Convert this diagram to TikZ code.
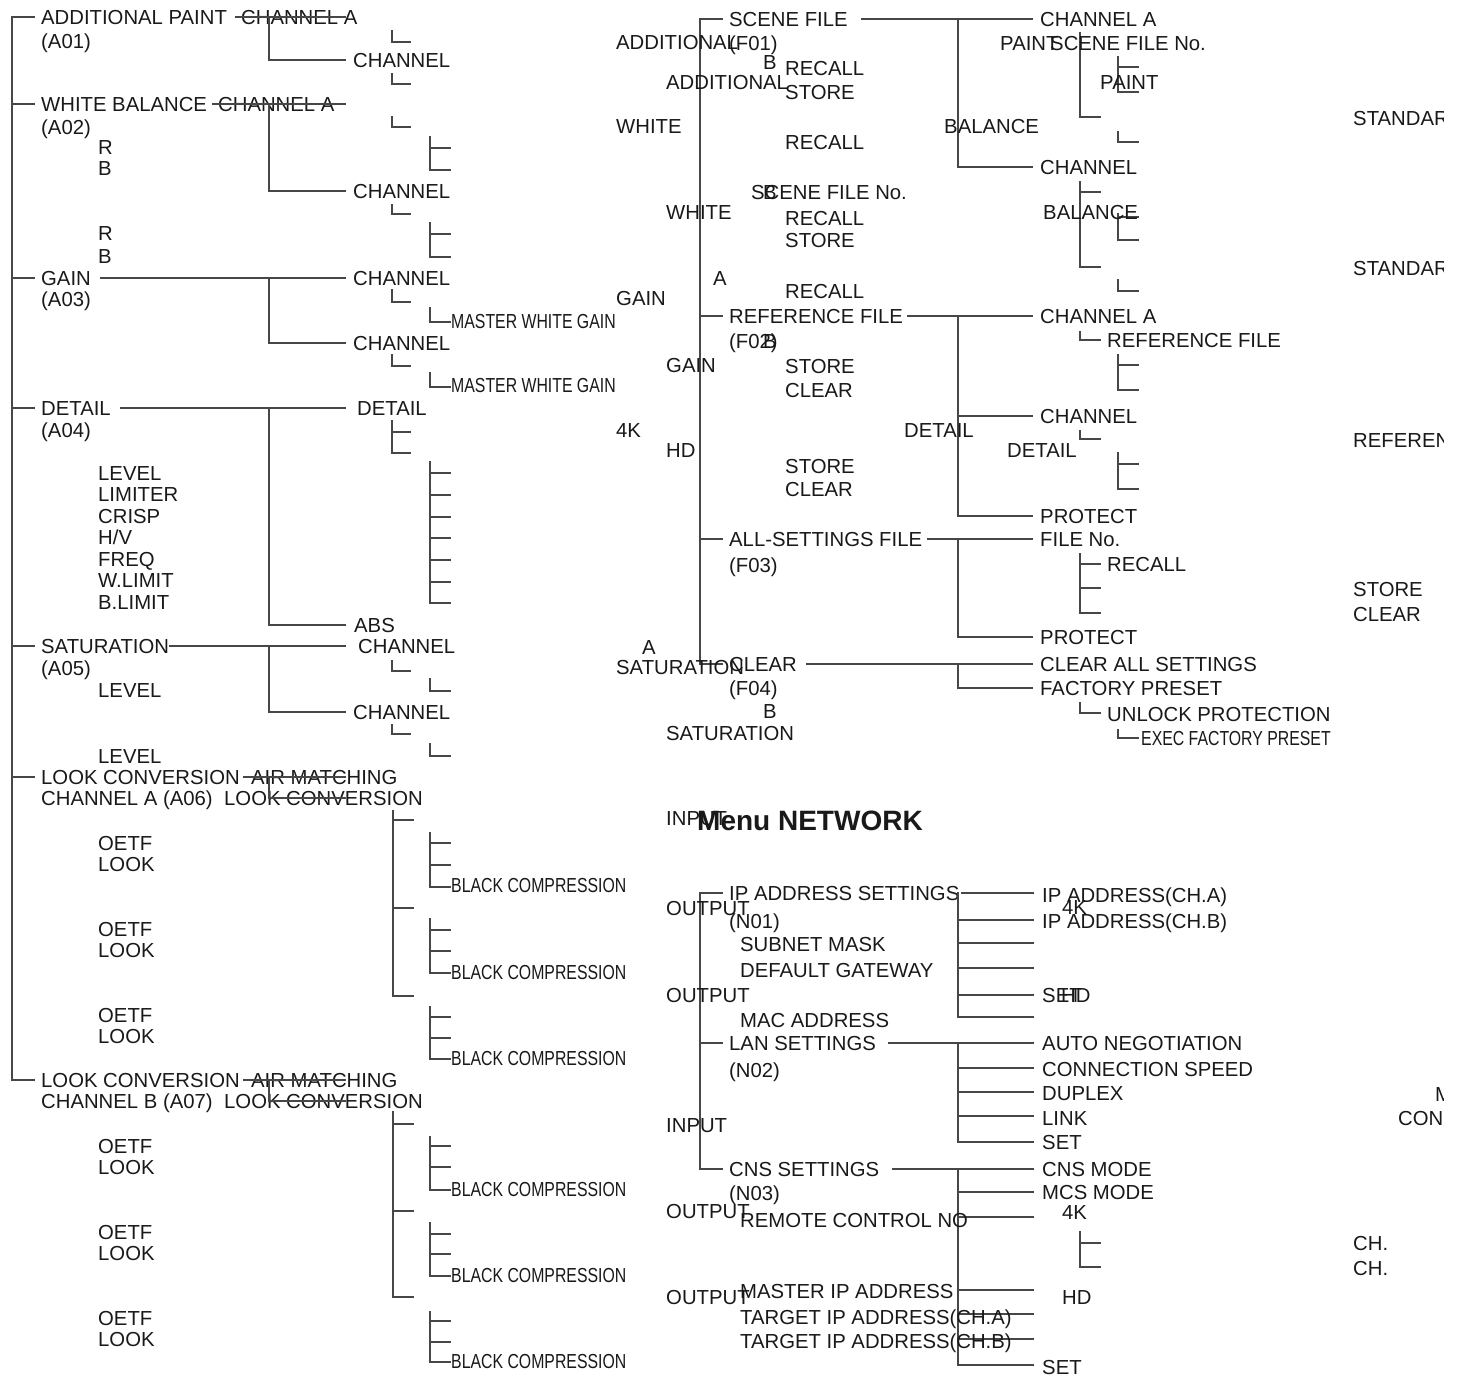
\documentclass[tikz,border=0pt]{standalone}
\usepackage{fontspec}
\setmainfont{Liberation Sans}
\newfontfamily\slimfamily[FakeStretch=0.78]{Liberation Sans}
\usetikzlibrary{positioning}

% vertical rule with short ticks to the right
\newcommand{\tickrack}[5]{%
  \coordinate (#1) at (#2,#3);
  \foreach \ty [count=\k] in {#4} {
    \coordinate (#1-\k) at (#2,\ty);
    \coordinate (#1-\k-e) at (#2+#5,\ty);
    \draw[wire] (#1-\k) -- (#1-\k-e);
    \xdef\lastty{\ty}
  }
  \coordinate (#1-end) at (#2,\lastty);
  \draw[wire] (#1) -- (#1-end);
}

\begin{document}
\begin{tikzpicture}[x=1pt, y=-1pt, font=\fontsize{20.3}{24}\selectfont,
    wire/.style={draw=black!72, line width=1.6pt, line cap=rect},
    lbl/.style={anchor=west, inner sep=0pt, text height=14.5pt, text depth=0pt, text=black!90},
    slim/.style={lbl, font=\slimfamily\fontsize{20.3}{24}\selectfont},
    headline/.style={anchor=west, inner sep=0pt, text height=20pt, text depth=0pt, text=black!90,
      font=\bfseries\fontsize{28}{32}\selectfont}]
\fill[white] (0,0) rectangle (1459,1381);
\useasboundingbox (0,0) rectangle (1459,1381);
\clip (0,0) rectangle (1443,1381);

\coordinate (aJoin) at (269,0);
\coordinate (aEnd) at (345,0);
\coordinate (fJoin) at (958,0);
\coordinate (fEnd) at (1032,0);
\coordinate (nEnd) at (1033,0);

%% ---- left column (A01 - A07)
\tickrack{aSpine}{12}{17}{17,104,278,408,646,777,1080}{22}

\node[lbl] (addPaint) at (41,17) {ADDITIONAL PAINT};
\node[lbl] (addPaintNo) at (41,41) {(A01)};
\node[lbl] (addChA) at (241,17) {CHANNEL A};
\node[lbl] (addChB) at (353,60) {CHANNEL};
\draw[wire] ([xshift=-5pt]addChA.west) -- (addChA.west -| aEnd);
\draw[wire] (addChA.west -| aJoin) |- (addChB.west -| aEnd);
\tickrack{am1}{392}{31}{42}{18}
\tickrack{am2}{392}{74}{84}{18}

\node[lbl] (wb) at (41,104) {WHITE BALANCE};
\node[lbl] (wbNo) at (41,127) {(A02)};
\node[lbl] (wbChA) at (218,104) {CHANNEL A};
\node[lbl] (wbChB) at (353,191) {CHANNEL};
\node[lbl] (wbR1) at (98,147) {R};
\node[lbl] (wbB1) at (98,168) {B};
\node[lbl] (wbR2) at (98,233) {R};
\node[lbl] (wbB2) at (98,256) {B};
\draw[wire] ([xshift=-5pt]wbChA.west) -- (wbChA.west -| aEnd);
\draw[wire] (wbChA.west -| aJoin) |- (wbChB.west -| aEnd);
\tickrack{wm1}{392}{117}{127}{18}
\tickrack{wm2}{430}{137}{148,170}{20}
\tickrack{wm3}{392}{205}{214}{18}
\tickrack{wm4}{430}{223}{234,257}{20}

\node[lbl] (gain) at (41,278) {GAIN};
\node[lbl] (gainNo) at (41,299) {(A03)};
\node[lbl] (gainChA) at (353,278) {CHANNEL};
\node[lbl] (gainChB) at (353,343) {CHANNEL};
\node[slim] (mwgA) at (451,321) {MASTER WHITE GAIN};
\node[slim] (mwgB) at (451,385) {MASTER WHITE GAIN};
\draw[wire] ([xshift=10pt]gain.east) -- (gainChA.west -| aEnd);
\draw[wire] (gain.east -| aJoin) |- (gainChB.west -| aEnd);
\tickrack{gm1}{392}{290}{302}{18}
\tickrack{gm2}{430}{308}{322}{20}
\tickrack{gm3}{392}{355}{366}{18}
\tickrack{gm4}{430}{373}{387}{20}

\node[lbl] (det) at (41,408) {DETAIL};
\node[lbl] (detNo) at (41,430) {(A04)};
\node[lbl] (detD) at (357,408) {DETAIL};
\node[lbl] (detAbs) at (354,625) {ABS};
\foreach \t [count=\i] in {LEVEL,LIMITER,CRISP,H/V,FREQ,W.LIMIT,B.LIMIT}
  \node[lbl] (detItem\i) at (98,451.5+21.5*\i) {\t};
\draw[wire] ([xshift=10pt]det.east) -- (detD.west -| aEnd);
\draw[wire] (det.east -| aJoin) |- (detAbs.west -| aEnd);
\tickrack{dm1}{392}{421}{432,453}{18}
\tickrack{dm2}{430}{462}{473,495,517,538,560,582,603}{20}

\node[lbl] (sat) at (41,646) {SATURATION};
\node[lbl] (satNo) at (41,668) {(A05)};
\node[lbl] (satChA) at (358,646) {CHANNEL};
\node[lbl] (satChB) at (353,712) {CHANNEL};
\node[lbl] (satLvA) at (98,690) {LEVEL};
\node[lbl] (satLvB) at (98,756) {LEVEL};
\draw[wire] ([xshift=1pt]sat.east) -- (satChA.west -| aEnd);
\draw[wire] (sat.east -| aJoin) |- (satChB.west -| aEnd);
\tickrack{sm1}{392}{661}{671}{18}
\tickrack{sm2}{430}{679}{691}{20}
\tickrack{sm3}{392}{725}{734}{18}
\tickrack{sm4}{430}{744}{756}{20}

\node[lbl] (lookA) at (41,777) {LOOK CONVERSION};
\node[lbl] (lookANo) at (41,798) {CHANNEL A (A06)};
\node[lbl] (airA) at (251,777) {AIR MATCHING};
\node[lbl] (convA) at (224,798) {LOOK CONVERSION};
\draw[wire] ([xshift=-7pt]airA.west) -- (airA.west -| aEnd);
\draw[wire] (airA.west -| aJoin) |- (convA.west -| aEnd);
\foreach \yy [count=\i] in {843,929,1015} {
  \node[lbl] (oetfA\i) at (98,\yy) {OETF};
  \node[lbl] (lookItemA\i) at (98,\yy+21) {LOOK};
}
\tickrack{lam}{393}{811}{820,908,996}{20}
\tickrack{la1}{430}{833}{843,865,887}{20}
\tickrack{la2}{430}{919}{930,951,973}{20}
\tickrack{la3}{430}{1007}{1017,1038,1059}{20}
\foreach \yy [count=\i] in {885,972,1058}
  \node[slim] (bcA\i) at (451,\yy) {BLACK COMPRESSION};

\node[lbl] (lookB) at (41,1080) {LOOK CONVERSION};
\node[lbl] (lookBNo) at (41,1101) {CHANNEL B (A07)};
\node[lbl] (airB) at (251,1080) {AIR MATCHING};
\node[lbl] (convB) at (224,1101) {LOOK CONVERSION};
\draw[wire] ([xshift=-7pt]airB.west) -- (airB.west -| aEnd);
\draw[wire] (airB.west -| aJoin) |- (convB.west -| aEnd);
\foreach \yy [count=\i] in {1146,1232,1318} {
  \node[lbl] (oetfB\i) at (98,\yy) {OETF};
  \node[lbl] (lookItemB\i) at (98,\yy+21) {LOOK};
}
\tickrack{lbm}{393}{1112}{1124,1211,1297}{20}
\tickrack{lb1}{430}{1137}{1146,1167,1190}{20}
\tickrack{lb2}{430}{1223}{1234,1254,1276}{20}
\tickrack{lb3}{430}{1312}{1321,1342,1362}{20}
\foreach \yy [count=\i] in {1189,1275,1361}
  \node[slim] (bcB\i) at (451,\yy) {BLACK COMPRESSION};

%% ---- middle column (F01 - F04)
\tickrack{fSpine}{700}{19}{19,316,539,664}{22}

\node[lbl] (scene) at (729,19) {SCENE FILE};
\node[lbl] (sceneNo) at (729,43) {(F01)};
\node[lbl] (sceneChA) at (1040,19) {CHANNEL A};
\node[lbl] (sceneChB) at (1040,167) {CHANNEL};
\draw[wire] ([xshift=14pt]scene.east) -- (sceneChA.west -| fEnd);
\draw[wire] (scene.east -| fJoin) |- (sceneChB.west -| fEnd);
\tickrack{sfr1}{1080}{33}{117}{20}
\tickrack{sfr2}{1118}{57}{67,92}{20}
\tickrack{sfr3}{1118}{132}{142}{20}
\tickrack{sfr4}{1080}{182}{192,267}{20}
\tickrack{sfr5}{1118}{214}{217,240}{20}
\tickrack{sfr6}{1118}{280}{291}{20}

\node[lbl] (refFile) at (729,316) {REFERENCE FILE};
\node[lbl] (refFileNo) at (729,341) {(F02)};
\node[lbl] (refChA) at (1040,316) {CHANNEL A};
\node[lbl] (refSub) at (1107,340) {REFERENCE FILE};
\node[lbl] (refChB) at (1040,416) {CHANNEL};
\node[lbl] (refProt) at (1040,516) {PROTECT};
\draw[wire] ([xshift=5pt]refFile.east) -- (refChA.west -| fEnd);
\draw[wire] (refFile.east -| fJoin) |- (refProt.west -| fEnd);
\draw[wire] (refChB.west -| fJoin) -- (refChB.west -| fEnd);
\tickrack{rfr1}{1080}{332}{340}{20}
\tickrack{rfr2}{1118}{355}{365,390}{20}
\tickrack{rfr3}{1080}{431}{439}{20}
\tickrack{rfr4}{1118}{453}{464,489}{20}

\node[lbl] (allSet) at (729,539) {ALL-SETTINGS FILE};
\node[lbl] (allSetNo) at (729,565) {(F03)};
\node[lbl] (allFileNo) at (1040,539) {FILE No.};
\node[lbl] (allRecall) at (1107,564) {RECALL};
\node[lbl] (allProt) at (1040,637) {PROTECT};
\draw[wire] ([xshift=5pt]allSet.east) -- (allFileNo.west -| fEnd);
\draw[wire] (allSet.east -| fJoin) |- (allProt.west -| fEnd);
\tickrack{afr1}{1080}{554}{564,588,613}{20}

\node[lbl] (clearF) at (729,664) {CLEAR};
\node[lbl] (clearFNo) at (729,688) {(F04)};
\node[lbl] (clearAll) at (1040,664) {CLEAR ALL SETTINGS};
\node[lbl] (factory) at (1040,688) {FACTORY PRESET};
\node[lbl] (unlock) at (1107,714) {UNLOCK PROTECTION};
\node[slim] (execFac) at (1141,738) {EXEC FACTORY PRESET};
\draw[wire] ([xshift=10pt]clearF.east) -- (clearAll.west -| fEnd);
\draw[wire] (clearF.east -| fJoin) |- (factory.west -| fEnd);
\tickrack{cfr1}{1080}{703}{713}{20}
\tickrack{cfr2}{1118}{730}{738}{20}

% stray labels laid over the F menu
\foreach \xx/\yy/\t [count=\i] in {616/42/ADDITIONAL, 763/62/B, 785/68/RECALL, 666/82/ADDITIONAL,
    785/92/STORE, 616/126/WHITE, 785/142/RECALL, 944/126/BALANCE, 751/192/SCENE FILE No.,
    763/192/B, 666/212/WHITE, 785/218/RECALL, 785/240/STORE, 713/278/A, 616/298/GAIN,
    785/291/RECALL, 763/341/B, 666/365/GAIN, 785/366/STORE, 785/390/CLEAR, 616/430/4K,
    666/450/HD, 904/430/DETAIL, 785/466/STORE, 785/489/CLEAR, 642/647/A, 616/667/SATURATION,
    763/711/B, 666/733/SATURATION, 1000/43/PAINT, 1050/43/SCENE FILE No., 1100/82/PAINT,
    1043/212/BALANCE, 1007/450/DETAIL}
  \node[lbl] (fx\i) at (\xx,\yy) {\t};

% cut-off labels at the right edge
\foreach \xx/\yy/\t [count=\i] in {1353/118/STANDARD, 1353/268/STANDARD, 1353/440/REFERENCE,
    1353/589/STORE, 1353/614/CLEAR, 1435/1094/M, 1398/1118/CONN, 1353/1243/CH., 1353/1268/CH.}
  \node[lbl] (edge\i) at (\xx,\yy) {\t};

%% ---- Menu NETWORK
\node[lbl] (netIn) at (666,818) {INPUT};
\node[headline] (menuNet) at (697,820) {Menu NETWORK};
\tickrack{nSpine}{700}{893}{893,1043,1169}{22}

\node[lbl] (ipSet) at (729,893) {IP ADDRESS SETTINGS};
\node[lbl] (ipSetNo) at (729,921) {(N01)};
\node[lbl] (ipA) at (1042,895) {IP ADDRESS(CH.A)};
\node[lbl] (ipB) at (1042,921) {IP ADDRESS(CH.B)};
\node[lbl] (ipSetBtn) at (1042,995) {SET};
\draw[wire] ([xshift=2pt]ipSet.east) -- (ipSet.east -| nEnd);
\tickrack{nr1}{958}{893}{920,943,968,995,1017}{75}

\node[lbl] (lanSet) at (729,1043) {LAN SETTINGS};
\node[lbl] (lanSetNo) at (729,1070) {(N02)};
\node[lbl] (lanAuto) at (1042,1043) {AUTO NEGOTIATION};
\node[lbl] (lanSpeed) at (1042,1069) {CONNECTION SPEED};
\node[lbl] (lanDuplex) at (1042,1093) {DUPLEX};
\node[lbl] (lanLink) at (1042,1118) {LINK};
\node[lbl] (lanSetBtn) at (1042,1142) {SET};
\draw[wire] ([xshift=13pt]lanSet.east) -- (lanAuto.west -| nEnd);
\tickrack{nr2}{958}{1043}{1068,1092,1116,1142}{75}

\node[lbl] (cnsSet) at (729,1169) {CNS SETTINGS};
\node[lbl] (cnsSetNo) at (729,1193) {(N03)};
\node[lbl] (cnsMode) at (1042,1169) {CNS MODE};
\node[lbl] (mcsMode) at (1042,1192) {MCS MODE};
\node[lbl] (cnsSetBtn) at (1042,1367) {SET};
\draw[wire] ([xshift=13pt]cnsSet.east) -- (cnsMode.west -| nEnd);
\tickrack{nr3}{958}{1169}{1192,1217,1290,1314,1339,1365}{75}
\tickrack{nr4}{1080}{1232}{1243,1267}{20}

% stray labels laid over the NETWORK menu
\foreach \xx/\yy/\t [count=\i] in {666/908/OUTPUT, 666/995/OUTPUT, 666/1125/INPUT, 666/1211/OUTPUT,
    666/1297/OUTPUT, 740/944/SUBNET MASK, 740/970/DEFAULT GATEWAY, 740/1020/MAC ADDRESS,
    740/1220/REMOTE CONTROL NO, 740/1291/MASTER IP ADDRESS, 740/1317/TARGET IP ADDRESS(CH.A),
    740/1341/TARGET IP ADDRESS(CH.B), 1062/907/4K, 1061/995/HD, 1062/1212/4K, 1062/1297/HD}
  \node[lbl] (nx\i) at (\xx,\yy) {\t};
\end{tikzpicture}
\end{document}
